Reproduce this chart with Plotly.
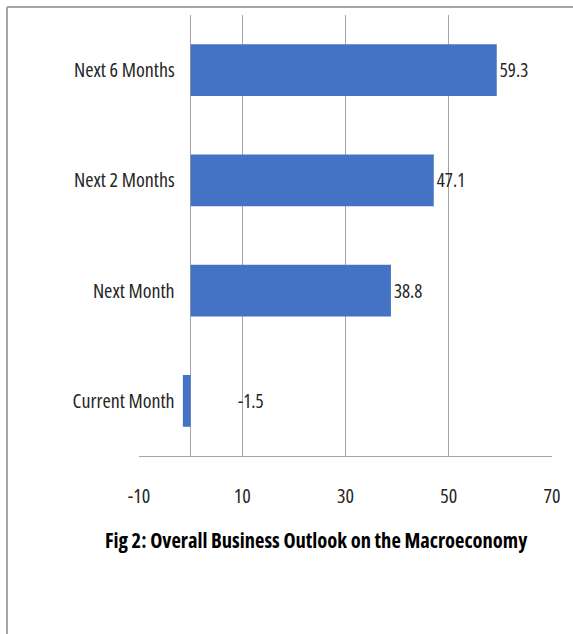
import plotly.graph_objects as go

# ---- data ----
categories = ["Current Month", "Next Month", "Next 2 Months", "Next 6 Months"]
values = [-1.5, 38.8, 47.1, 59.3]
x_ticks = [-10, 10, 30, 50, 70]
x_tick_labels = ["-10", "10", "30", "50", "70"]
x_range = [-10, 70]
title_text = "Fig 2: Overall Business Outlook on the Macroeconomy"

# ---- layout geometry (pixels) ----
W, H = 573, 634
PL, PR, PT, PB = 139, 552, 15, 456   # plot area edges

def px_x(px):
    return (px - PL) / (PR - PL)

def px_y(py):
    return (PB - py) / (PB - PT)

FONT = "Open Sans"
BLUE = "#4472C4"
GRID = "#a6a6a6"
TXT = "#262626"

def cond(s):
    return f'<span style="font-stretch:condensed">{s}</span>'

def f(size, color=TXT):
    return dict(family=FONT, size=size, color=color)

pos_text = [cond(f"{v}") if v >= 0 else "" for v in values]

fig = go.Figure(
    go.Bar(
        x=values,
        y=categories,
        orientation="h",
        marker=dict(color=BLUE, line=dict(width=0)),
        text=pos_text,
        textposition="outside",
        textfont=f(19),
        cliponaxis=False,
        hoverinfo="skip",
        width=0.47,
    )
)

# label for negative bar (Excel-style placement)
for c, v in zip(categories, values):
    if v < 0:
        fig.add_annotation(
            x=0, y=c, xref="x", yref="y", text=cond(f"{v}"), showarrow=False,
            xanchor="left", xshift=45, font=f(19),
        )

fig.add_annotation(
    x=px_x(316), y=px_y(540), xref="paper", yref="paper",
    text=cond(f"<b>{title_text}</b>"), showarrow=False,
    xanchor="center", yanchor="middle",
    font=f(20.5, "#000000"),
)

# outer frame (top and left edges visible)
fig.add_shape(type="line", xref="paper", yref="paper",
              x0=px_x(7), y0=px_y(7), x1=px_x(W + 10), y1=px_y(7),
              line=dict(color=GRID, width=2))
fig.add_shape(type="line", xref="paper", yref="paper",
              x0=px_x(7), y0=px_y(7), x1=px_x(7), y1=px_y(H + 10),
              line=dict(color=GRID, width=2))

fig.update_layout(
    width=W, height=H,
    margin=dict(l=PL, r=W - PR, t=PT, b=H - PB, pad=0),
    paper_bgcolor="white", plot_bgcolor="white",
    showlegend=False,
    xaxis=dict(
        range=x_range, tickvals=x_ticks, ticktext=[cond(t) for t in x_tick_labels],
        showgrid=True, gridcolor=GRID, gridwidth=1,
        zeroline=True, zerolinecolor=GRID, zerolinewidth=1,
        showline=True, linecolor=GRID, linewidth=1,
        ticks="", ticklabelstandoff=22,
        tickfont=f(20),
        fixedrange=True,
    ),
    yaxis=dict(
        categoryorder="array", categoryarray=categories,
        tickvals=categories, ticktext=[cond(c) for c in categories],
        anchor="free", position=(0 - x_range[0]) / (x_range[1] - x_range[0]),
        showgrid=False, showline=False, zeroline=False,
        ticks="", ticklabelstandoff=16,
        tickfont=f(20),
        fixedrange=True,
    ),
)

post = "document.body.style.margin='0';document.body.style.overflow='hidden';"
fig.write_html("out.html", post_script=post, config={"displayModeBar": False})
